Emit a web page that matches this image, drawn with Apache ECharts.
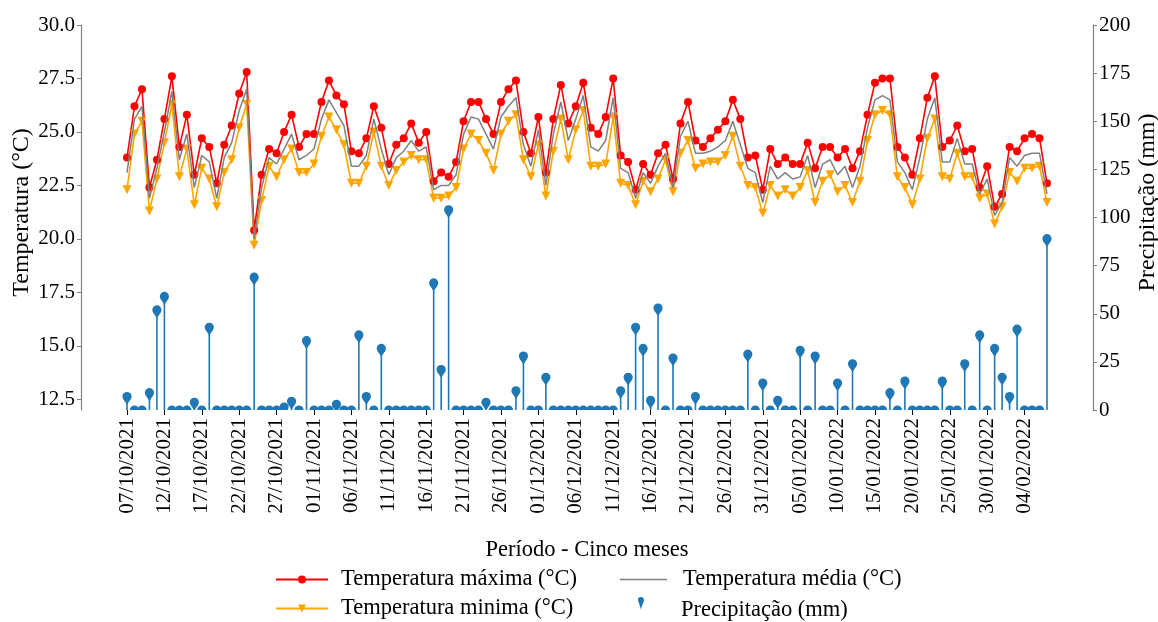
<!DOCTYPE html>
<html><head><meta charset="utf-8">
<script src="https://cdn.jsdelivr.net/npm/echarts@6/dist/echarts.min.js"></script>
<style>html,body{margin:0;padding:0;background:#fff}#c{width:1158px;height:622px}</style>
</head><body><div id="c"></div>
<script>
const dates = [
'07/10/2021','08/10/2021','09/10/2021','10/10/2021','11/10/2021','12/10/2021','13/10/2021','14/10/2021','15/10/2021','16/10/2021',
'17/10/2021','18/10/2021','19/10/2021','20/10/2021','21/10/2021','22/10/2021','23/10/2021','24/10/2021','25/10/2021','26/10/2021',
'27/10/2021','28/10/2021','29/10/2021','30/10/2021','31/10/2021','01/11/2021','02/11/2021','03/11/2021','04/11/2021','05/11/2021',
'06/11/2021','07/11/2021','08/11/2021','09/11/2021','10/11/2021','11/11/2021','12/11/2021','13/11/2021','14/11/2021','15/11/2021',
'16/11/2021','17/11/2021','18/11/2021','19/11/2021','20/11/2021','21/11/2021','22/11/2021','23/11/2021','24/11/2021','25/11/2021',
'26/11/2021','27/11/2021','28/11/2021','29/11/2021','30/11/2021','01/12/2021','02/12/2021','03/12/2021','04/12/2021','05/12/2021',
'06/12/2021','07/12/2021','08/12/2021','09/12/2021','10/12/2021','11/12/2021','12/12/2021','13/12/2021','14/12/2021','15/12/2021',
'16/12/2021','17/12/2021','18/12/2021','19/12/2021','20/12/2021','21/12/2021','22/12/2021','23/12/2021','24/12/2021','25/12/2021',
'26/12/2021','27/12/2021','28/12/2021','29/12/2021','30/12/2021','31/12/2021','01/01/2022','02/01/2022','03/01/2022','04/01/2022',
'05/01/2022','06/01/2022','07/01/2022','08/01/2022','09/01/2022','10/01/2022','11/01/2022','12/01/2022','13/01/2022','14/01/2022',
'15/01/2022','16/01/2022','17/01/2022','18/01/2022','19/01/2022','20/01/2022','21/01/2022','22/01/2022','23/01/2022','24/01/2022',
'25/01/2022','26/01/2022','27/01/2022','28/01/2022','29/01/2022','30/01/2022','31/01/2022','01/02/2022','02/02/2022','03/02/2022',
'04/02/2022','05/02/2022','06/02/2022','07/02/2022'];

const tickIndex = [0,5,10,15,20,25,30,35,40,45,50,55,60,65,70,75,80,85,90,95,100,105,110,115,120];
const tempTicks = [12.5,15,17.5,20,22.5,25,27.5,30];

const tempMax = [
23.8,26.2,27.0,22.4,23.7,25.6,27.6,24.3,25.8,23.0,
24.7,24.3,22.6,24.4,25.3,26.8,27.8,20.4,23.0,24.2,
24.0,25.0,25.8,24.3,24.9,24.9,26.4,27.4,26.7,26.3,
24.1,24.0,24.7,26.2,25.2,23.5,24.4,24.7,25.4,24.5,
25.0,22.7,23.1,22.9,23.6,25.5,26.4,26.4,25.6,24.9,
26.4,27.0,27.4,25.0,24.0,25.7,23.1,25.6,27.2,25.4,
26.2,27.3,25.2,24.9,25.7,27.5,23.9,23.6,22.3,23.5,
23.0,24.0,24.4,22.8,25.4,26.4,24.6,24.3,24.7,25.1,
25.5,26.5,25.6,23.8,23.9,22.3,24.2,23.5,23.8,23.5,
23.5,24.5,23.3,24.3,24.3,23.8,24.2,23.3,24.1,25.8,
27.3,27.5,27.5,24.3,23.8,23.0,24.7,26.6,27.6,24.3,
24.6,25.3,24.1,24.2,22.4,23.4,21.5,22.1,24.3,24.1,
24.7,24.9,24.7,22.6];

const tempMin = [
22.3,24.9,25.5,21.3,22.8,24.5,26.3,22.9,24.2,21.6,
23.3,22.8,21.5,23.1,23.7,25.2,26.3,19.7,21.8,23.4,
22.9,23.7,24.2,23.1,23.1,23.5,24.8,25.7,25.1,24.4,
22.6,22.6,23.4,25.0,23.4,22.5,23.2,23.6,23.9,23.7,
23.7,21.9,21.9,22.0,22.4,24.2,24.9,24.6,24.0,23.2,
24.9,25.5,25.8,23.7,22.9,24.4,22.0,24.1,25.6,23.7,
25.1,26.0,23.4,23.4,23.5,25.7,22.6,22.5,21.6,22.7,
22.2,22.8,23.7,22.2,24.0,24.6,23.3,23.5,23.6,23.6,
23.9,24.8,23.4,22.5,22.4,21.2,22.5,22.0,22.3,22.0,
22.4,23.2,21.7,22.7,23.0,22.2,22.5,21.7,22.7,24.6,
25.8,26.0,25.8,22.9,22.4,21.6,22.8,24.7,25.6,22.9,
22.8,24.0,22.9,22.9,21.9,22.1,20.7,21.5,23.1,22.7,
23.3,23.3,23.4,21.7];

const tempMean = [
23.1,25.6,26.2,21.9,23.3,25.0,26.9,23.7,24.9,22.4,
23.9,23.6,21.9,23.8,24.5,26.0,27.0,20.0,22.4,23.8,
23.5,24.2,24.9,23.7,23.9,24.2,25.6,26.5,25.9,25.3,
23.4,23.4,23.9,25.6,24.2,23.0,23.8,24.1,24.6,24.1,
24.3,22.3,22.5,22.5,23.0,24.9,25.7,25.6,24.9,24.2,
25.7,26.2,26.6,24.4,23.4,25.1,22.5,24.9,26.4,24.6,
25.6,26.7,24.3,24.1,24.6,26.6,23.3,23.1,21.9,23.1,
22.6,23.4,24.0,22.4,24.8,25.5,24.0,24.0,24.1,24.3,
24.6,25.5,24.4,23.3,23.1,21.7,23.4,22.8,23.1,22.8,
22.9,23.9,22.4,23.5,23.7,23.0,23.4,22.4,23.4,25.2,
26.5,26.7,26.5,23.6,23.1,22.3,23.8,25.6,26.6,23.6,
23.6,24.7,23.5,23.5,22.1,22.8,21.1,21.7,23.8,23.4,
23.9,24.0,24.0,22.1];

const precip = [
7,0,0,9,52,59,0,0,0,4,
0,43,0,0,0,0,0,69,0,0,
0,1.5,4.5,0,36,0,0,0,3,0,
0,39,7,0,32,0,0,0,0,0,
0,66,21,104,0,0,0,0,4,0,
0,0,10,28,0,0,17,0,0,0,
0,0,0,0,0,0,10,17,43,32,
5,53,0,27,0,0,7,0,0,0,
0,0,0,29,0,14,0,5,0,0,
31,0,28,0,0,14,0,24,0,0,
0,0,9,0,15,0,0,0,0,15,
0,0,24,0,39,0,32,17,7,42,
0,0,0,89];

const FONT = 'Liberation Serif';
const FS = 21;
const FS_T = 22.5;
const FS_Y = 24;
const BLUE = '#1f77b4';

function renderPrecip(params, api) {
  const x = api.value(0), v = api.value(1);
  const top = api.coord([x, v]);
  const base = api.coord([x, 0]);
  const r = 4.6;
  return {type: 'group', children: [
    {type: 'line', shape: {x1: top[0], y1: base[1], x2: top[0], y2: top[1]}, style: {stroke: BLUE, lineWidth: 1.6}},
    {type: 'polygon', shape: {points: [[top[0] - r * 0.82, top[1] + r * 0.55], [top[0] + r * 0.82, top[1] + r * 0.55], [top[0], top[1] + r * 1.8]]}, style: {fill: BLUE}},
    {type: 'circle', shape: {cx: top[0], cy: top[1], r: r}, style: {fill: BLUE}}
  ]};
}

const chart = echarts.init(document.getElementById('c'), null, {renderer: 'canvas'});
const legendText = {fontFamily: FONT, fontSize: FS_T, color: '#000', padding: [0, 0, 0, 8]};
const legendBase = {orient: 'vertical', padding: 0, itemGap: 6, itemHeight: 10, height: 90, top: 568, selectedMode: false};
chart.setOption({
  animation: false,
  backgroundColor: '#fff',
  textStyle: {fontFamily: FONT},
  grid: {left: 81, right: 65, top: 25, bottom: 212, containLabel: false, outerBoundsMode: 'none'},
  legend: [
    Object.assign({}, legendBase, {data: ['Temperatura máxima (°C)', 'Temperatura minima (°C)'], left: 275,
      itemWidth: 52, textStyle: legendText}),
    Object.assign({}, legendBase, {data: [{name: 'Temperatura média (°C)', icon: 'path://M0,0 L50,0 L50,1.5 L0,1.5 Z'}], left: 620,
      itemWidth: 47, textStyle: Object.assign({}, legendText, {padding: [0, 0, 0, 11]})}),
    Object.assign({}, legendBase, {data: [{name: 'Precipitação (mm)', icon: 'pin'}], left: 638, top: 597,
      itemWidth: 10, itemHeight: 14, textStyle: Object.assign({}, legendText, {padding: [0, 0, 0, 30]})})
  ],
  xAxis: {
    type: 'value', min: -6.15, max: 129.15,
    axisLine: {show: false, onZero: false},
    splitLine: {show: false},
    axisTick: {show: true, customValues: tickIndex, length: 5, lineStyle: {color: '#000', width: 1}},
    axisLabel: {customValues: tickIndex, rotate: 90, formatter: v => dates[v], fontFamily: FONT, fontSize: FS, color: '#000', margin: 8},
    name: 'Período - Cinco meses', nameLocation: 'middle', nameGap: 129,
    nameTextStyle: {fontFamily: FONT, fontSize: FS_T, color: '#000'}
  },
  yAxis: [
    {type: 'value', min: 12, max: 30, position: 'left',
     axisLine: {show: true, onZero: false, lineStyle: {color: '#808080', width: 1.2}},
     axisTick: {show: true, customValues: tempTicks, length: 4, lineStyle: {color: '#808080'}},
     axisLabel: {customValues: tempTicks, formatter: v => v.toFixed(1), fontFamily: FONT, fontSize: FS, color: '#000', margin: 6},
     splitLine: {show: false},
     name: 'Temperatura (°C)', nameLocation: 'middle', nameGap: 47, nameRotate: 90, nameMoveOverlap: false,
     nameTextStyle: {fontFamily: FONT, fontSize: FS_Y, color: '#000', padding: [0, 0, 0, 10]}},
    {type: 'value', min: 0, max: 200, interval: 25, position: 'right',
     axisLine: {show: true, onZero: false, lineStyle: {color: '#808080', width: 1.2}},
     axisTick: {show: true, length: 4, lineStyle: {color: '#808080'}},
     axisLabel: {fontFamily: FONT, fontSize: FS, color: '#000', margin: 6},
     splitLine: {show: false},
     name: 'Precipitação (mm)', nameLocation: 'middle', nameGap: 43, nameRotate: 90, nameMoveOverlap: false,
     nameTextStyle: {fontFamily: FONT, fontSize: FS_Y, color: '#000', padding: [0, 0, 0, 30]}}
  ],
  series: [
    {name: 'Temperatura máxima (°C)', type: 'line', data: tempMax.map((v, i) => [i, v]),
     symbol: 'circle', symbolSize: 8, lineStyle: {color: '#ff0000', width: 1.6}, itemStyle: {color: '#ff0000'}, z: 3},
    {name: 'Temperatura minima (°C)', type: 'line', data: tempMin.map((v, i) => [i, v]),
     symbol: 'triangle', symbolRotate: 180, symbolSize: 9, lineStyle: {color: '#ffa500', width: 1.6}, itemStyle: {color: '#ffa500'}, z: 3},
    {name: 'Temperatura média (°C)', type: 'line', data: tempMean.map((v, i) => [i, v]),
     symbol: 'none', lineStyle: {color: '#808080', width: 1.5}, itemStyle: {color: '#808080'}, z: 4},
    {name: 'Precipitação (mm)', type: 'custom', yAxisIndex: 1, data: precip.map((v, i) => [i, v]),
     renderItem: renderPrecip, clip: true, encode: {x: 0, y: 1}, itemStyle: {color: BLUE}, z: 5}
  ]
});
</script></body></html>
